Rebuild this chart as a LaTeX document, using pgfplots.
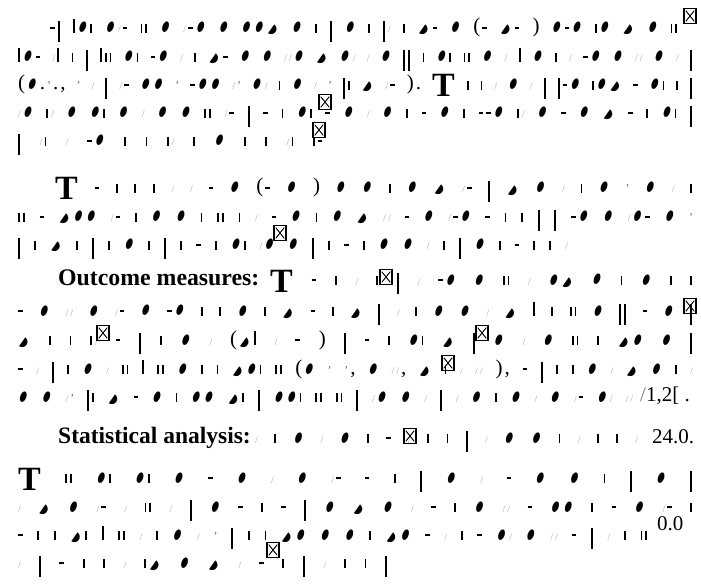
\documentclass[border=0pt]{standalone}
\usepackage{fontspec}
\setmainfont{Liberation Serif}
\newfontfamily\djv{DejaVu Sans}
\usepackage{graphicx}
\usepackage{pgfplots}
\pgfplotsset{compat=1.18}
% glyph fragments of the garbled text
\newcommand\Gb{\raisebox{3pt}{\rotatebox{-20}{\scalebox{0.66}[1.2]{\djv\fontsize{12}{12}\selectfont ●}}}\kern2.5pt}
\newcommand\Gh{\raisebox{1pt}{\rotatebox{-35}{\djv\fontsize{14}{14}\selectfont ◗}}\kern2.5pt}
\newcommand\Gs{\rule{1.8pt}{9pt}\kern3pt}
\newcommand\Gl{\rule[-9pt]{2pt}{21pt}\kern3pt}
\newcommand\Gt{\rule{1.8pt}{14pt}\kern3pt}
\newcommand\Gq{{\color{black!35}\fontsize{10}{10}\selectfont/}\kern2pt}
\newcommand\Gd{\rule[4pt]{4.5pt}{2.4pt}\kern3pt}
\newcommand\Gc{{\color{black!60}\fontsize{12}{12}\selectfont'}\kern2pt}
\newcommand\GT{\raisebox{-7pt}{\bfseries\fontsize{34}{34}\selectfont T}\kern3pt}
\newcommand\Gpl{{\fontsize{21}{21}\selectfont(}\kern2pt}
\newcommand\Gpr{{\fontsize{21}{21}\selectfont)}\kern2pt}
\newcommand\Gcm{{\fontsize{21}{21}\selectfont,}\kern2pt}
\newcommand\Gpd{{\fontsize{21}{21}\selectfont.}\kern2pt}
\ExplSyntaxOn
\NewDocumentCommand\Garb{m}{
  \str_map_inline:nn {#1} {
    \str_case:nn {##1} {
      {b}{\Gb} {h}{\Gh} {s}{\Gs} {l}{\Gl} {t}{\Gt} {q}{\Gq}
      {d}{\Gd} {c}{\Gc} {T}{\GT} {(}{\Gpl} {)}{\Gpr} {,}{\Gcm}
      {.}{\Gpd} {-}{\hfil}
    }
  }
}
\ExplSyntaxOff
\newcommand\Row[4]{\node[anchor=base west,inner sep=0pt] at (axis cs:#1,#3) {\hbox to \dimexpr #2pt-#1pt\relax{\Garb{#4}}};}
\begin{document}
\begin{tikzpicture}
\useasboundingbox (0,0) rectangle (701pt,585pt);
\begin{axis}[
  width=701pt, height=585pt, scale only axis,
  xmin=0, xmax=701, ymin=0, ymax=585, y dir=reverse,
  hide axis, clip=false]
% boxed-cross symbols
\addplot[only marks, mark=square, mark size=7.5pt, mark options={line width=1.4pt, xscale=0.8}]
  coordinates {(690,16) (325,102) (319,130) (280,233) (386,277) (690,306) (103,333) (482,333) (448,363) (410,436) (273,550)};
\addplot[only marks, mark=x, mark size=7.5pt, mark options={line width=0.9pt, xscale=0.8}]
  coordinates {(690,16) (325,102) (319,130) (280,233) (386,277) (690,306) (103,333) (482,333) (448,363) (410,436) (273,550)};
% garbled rows
\Row{50}{680}{33}{dl-tbs-bqd-ss-b-qdb-b-bbh-b-s-l-b-s-lq-s-hd-b-(d-hd-)-bdb-sb-h-b-ss}
\Row{18}{695}{62}{tbd-qt-s-l-tss-bs-db-q-s-hd-b-b-qqb-h-bq-q-b-ll-s-bs-ss-b-q-t-b-s-q-db-b-qq-b-q-l}
\Row{18}{695}{90}{(b.c.,-c-q-l-qd-bb-c-dbb-qc-bq-s-b-q-c-ls-h-qd-).-T-s-s-q-b-q-l-ldb-sbh-d-bs-s-l}
\Row{18}{695}{118}{qb-sq-b-bs-b-q-b-b-ss-qd-l-d-s-bs-d-b-q-b-s-d-b-s-ddb-sq-b-d-b-h-d-s-bs-l}
\Row{18}{325}{146}{l-qs-q-db-s-s-sq-s-b-s-s-qs-sd}
\Row{55}{695}{193}{T-d-s-s-s-q-q-d-b-(d-b-)-b-b-s-b-h-qd-l-h-b-q-s-b-c-b-q-s}
\Row{18}{695}{222}{ss-d-hbb-qd-s-b-b-s-ss-s-q-d-b-s-b-h-qq-d-b-qdb-d-s-s-l-l-db-b-qbd-b-c}
\Row{18}{570}{250}{l-s-h-s-l-s-b-s-l-s-d-s-bs-qb-b-l-s-d-s-b-b-q-s-l-b-s-d-s-s-q}
\Row{270}{695}{285}{T-d-s-q-s-l-q-db-b-ss-q-bh-b-s-b-s-s}
\Row{18}{695}{316}{d-b-qq-b-qd-b-db-s-s-b-s-h-d-s-h-l-q-s-b-b-q-h-t-s-ss-b-ll-d-b-l}
\Row{18}{695}{345}{h-s-s-sq-d-l-s-b-q-(ht-q-d-)-l-d-s-bs-h-l-b-q-b-ss-s-hb-b-l}
\Row{18}{695}{374}{d-q-l-s-b-q-ss-t-ss-b-s-s-hbs-ss-(b-c-c,-b-qq,-h-s-q-qq-),-d-l-s-s-b-q-h-b-s-q}
\Row{18}{635}{402}{b-b-qc-ls-h-d-b-s-bb-hs-l-bbs-ss-ss-l-qb-b-q-l-q-b-s-b-q-b-qd-bq-qq}
\Row{255}{640}{443}{q-s-b-q-b-s-d-q-s-s-l-q-b-b-s-q-s-s-q}
\Row{18}{695}{483}{T-ss-bs-bs-b-d-b-q-b-qd-d-s-l-b-q-d-b-b-s-l-b-l}
\Row{18}{695}{512}{q-h-b-qd-q-ss-q-l-b-d-s-d-l-b-h-b-q-d-s-b-qq-d-bb-s-d-b-qd-s}
\Row{18}{650}{540}{d-s-s-hs-t-ss-q-s-b-q-c-l-s-s-hb-b-b-s-hb-d-q-s-d-bq-b-qq-d-l-q-s-ss}
\Row{18}{390}{568}{q-l-d-s-s-q-sh-b-h-q-d-s-l-q-s-s-l}
% readable text
\node[anchor=base west,inner sep=0pt,font=\bfseries\fontsize{23.8}{28}\selectfont] at (axis cs:58,285) {Outcome measures:};
\node[anchor=base west,inner sep=0pt,font=\bfseries\fontsize{23.5}{27}\selectfont] at (axis cs:58,443) {Statistical analysis:};
\node[anchor=base west,inner sep=0pt,font=\fontsize{21}{25}\selectfont] at (axis cs:640,401) {{\color{black!50}/}1,2[ .};
\node[anchor=base west,inner sep=0pt,font=\fontsize{21}{25}\selectfont] at (axis cs:652,443) {24.0.};
\node[anchor=base west,inner sep=0pt,font=\fontsize{21}{25}\selectfont] at (axis cs:657,530) {0.0};
\end{axis}
\end{tikzpicture}
\end{document}
